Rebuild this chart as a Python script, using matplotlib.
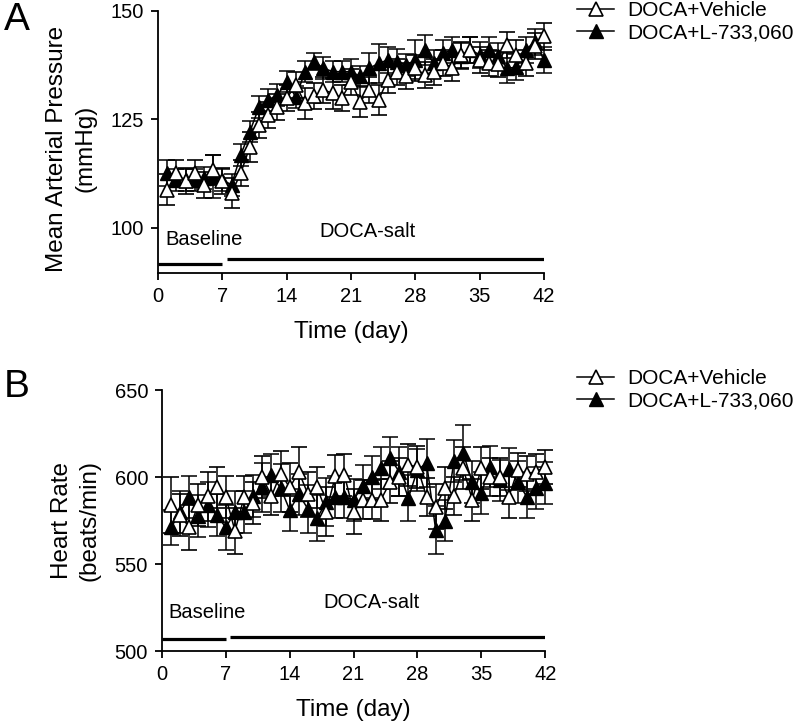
import matplotlib
matplotlib.use("Agg")
import matplotlib.pyplot as plt
from matplotlib.lines import Line2D

plt.rcParams['font.family'] = ['Liberation Sans', 'DejaVu Sans']

days = list(range(1, 43))

map_vehicle = [108.8, 112.6, 110.7, 112.6, 109.9, 113.4, 110.7, 108.0, 112.6, 118.7,
               123.7, 126.0, 127.9, 129.9, 132.9, 128.7, 130.3, 131.8, 131.0, 129.9,
               133.7, 129.1, 131.8, 129.5, 134.1, 136.0, 134.9, 136.8, 135.3, 136.0,
               137.9, 136.8, 139.9, 141.0, 138.7, 137.9, 137.8, 142.2, 139.9, 137.9,
               141.8, 144.1]
map_vehicle_err = [3.5, 3.0, 3.0, 3.0, 3.0, 3.5, 3.0, 3.5, 3.0, 3.5,
                   3.0, 3.0, 3.0, 3.0, 3.0, 3.5, 3.0, 3.0, 3.5, 3.0,
                   3.0, 3.5, 3.0, 3.5, 3.0, 3.0, 3.0, 3.0, 3.0, 3.0,
                   3.0, 3.0, 3.0, 3.0, 3.0, 3.0, 3.0, 3.0, 3.5, 3.0,
                   3.0, 3.0]
map_l733 = [112.6, 111.1, 111.1, 111.1, 111.5, 111.8, 111.1, 109.9, 116.8, 122.2,
            127.9, 129.5, 130.6, 133.7, 130.1, 136.0, 138.3, 136.8, 136.0, 136.0,
            136.0, 134.9, 136.8, 137.9, 138.7, 138.3, 137.5, 138.7, 141.0, 137.9,
            140.2, 141.0, 139.5, 141.0, 139.9, 141.0, 139.5, 136.8, 137.0, 141.0,
            142.9, 138.7]
map_l733_err = [3.0, 2.5, 2.5, 2.5, 2.5, 5.0, 2.5, 2.5, 2.5, 2.5,
                2.5, 2.5, 2.5, 2.5, 2.5, 2.5, 2.0, 2.5, 2.5, 2.5,
                3.0, 2.5, 3.5, 4.5, 3.0, 3.0, 2.5, 4.5, 3.5, 3.0,
                3.0, 3.0, 3.0, 3.0, 3.0, 3.0, 3.0, 3.5, 3.0, 3.0,
                3.0, 3.0]

hr_vehicle = [584, 578, 571, 584, 589, 594, 588.5, 569, 588.5, 585,
              600, 589, 602, 594, 603, 590, 594, 580, 600.6, 601,
              580, 587, 587, 587, 597, 600, 607, 605.7, 588.5, 583,
              593.7, 589, 605, 587, 605, 600, 600, 588.5, 604, 602,
              603, 605.7]
hr_vehicle_err = [16, 12, 13, 12, 14, 12, 12, 13, 12, 12,
                  12, 11, 13, 14, 14, 13, 12, 14, 12, 12,
                  13, 11, 11, 12, 12, 11, 12, 12, 11, 13,
                  12, 11, 12, 12, 12, 11, 11, 12, 10, 10,
                  10, 10]
hr_l733 = [571, 580, 588.5, 577.6, 584, 578, 571, 580, 580, 589,
           594, 601, 593.7, 581, 590, 581.6, 576.4, 585.6, 588.5, 588.5,
           587, 595, 600, 605, 611, 603, 588, 604, 608, 569.5,
           575, 609, 614, 597, 590.8, 606, 598, 604.6, 597, 588.5,
           593.7, 596.5]
hr_l733_err = [10, 12, 12, 12, 13, 12, 13, 12, 12, 12,
               14, 12, 14, 12, 12, 14, 13, 14, 12, 12,
               12, 12, 12, 12, 12, 14, 13, 12, 14, 14,
               12, 12, 16, 12, 12, 12, 12, 12, 12, 12,
               12, 12]

xticks = [0, 7, 14, 21, 28, 35, 42]
legend_labels = ['DOCA+Vehicle', 'DOCA+L-733,060']

fig = plt.figure(figsize=(8, 7.26), dpi=100)
axA = fig.add_axes([0.1975, 0.624, 0.4825, 0.361])
axB = fig.add_axes([0.2025, 0.1033, 0.479, 0.3595])

MS = 9.5
LW = 1.1


def draw(ax, y1, e1, y2, e2):
    ax.errorbar(days, y2, yerr=e2, fmt='-^', color='black', mfc='black', mec='black',
                ms=MS, lw=LW, elinewidth=LW, capsize=5.5, capthick=LW, clip_on=False, zorder=3)
    ax.errorbar(days, y1, yerr=e1, fmt='-^', color='black', mfc='white', mec='black',
                ms=MS, mew=1.2, lw=LW, elinewidth=LW, capsize=5.5, capthick=LW, clip_on=False, zorder=4)


def style(ax, xpad):
    for s in ['top', 'right']:
        ax.spines[s].set_visible(False)
    for s in ['left', 'bottom']:
        ax.spines[s].set_linewidth(1.3)
    ax.tick_params(width=1.3, length=5, labelsize=14.5, direction='out', pad=5)
    ax.set_xlim(0, 42)
    ax.set_xticks(xticks)
    ax.set_xlabel('Time (day)', fontsize=17.5, labelpad=xpad)


# Panel A
draw(axA, map_vehicle, map_vehicle_err, map_l733, map_l733_err)
style(axA, 11)
axA.set_ylim(89.6, 150)
axA.set_yticks([100, 125, 150])
axA.set_ylabel('Mean Arterial Pressure\n(mmHg)', fontsize=17.5, linespacing=1.35)
axA.yaxis.set_label_coords(-0.16, 0.475)
axA.plot([0, 7], [91.7, 91.7], color='black', lw=2.3, solid_capstyle='butt')
axA.plot([7.5, 42], [92.9, 92.9], color='black', lw=2.3, solid_capstyle='butt')
axA.text(0.75, 97.2, 'Baseline', fontsize=14.5, va='center', ha='left')
axA.text(17.6, 99.1, 'DOCA-salt', fontsize=14.5, va='center', ha='left')

# Panel B
draw(axB, hr_vehicle, hr_vehicle_err, hr_l733, hr_l733_err)
style(axB, 11)
axB.set_ylim(500, 650)
axB.set_yticks([500, 550, 600, 650])
axB.set_ylabel('Heart Rate\n(beats/min)', fontsize=17.5, labelpad=10, linespacing=1.35)
axB.plot([0, 7], [506.9, 506.9], color='black', lw=2.3, solid_capstyle='butt')
axB.plot([7.5, 42], [508, 508], color='black', lw=2.3, solid_capstyle='butt')
axB.text(0.65, 522.4, 'Baseline', fontsize=14.5, va='center', ha='left')
axB.text(17.65, 528, 'DOCA-salt', fontsize=14.5, va='center', ha='left')

handles = [Line2D([], [], color='black', lw=LW, marker='^', ms=MS, mfc='white', mec='black', mew=1.2),
           Line2D([], [], color='black', lw=LW, marker='^', ms=MS, mfc='black', mec='black')]
for y_anchor in [1 - 22 / 726, 1 - 390 / 726]:
    fig.legend(handles, legend_labels, loc='center left', bbox_to_anchor=(0.721, y_anchor),
               frameon=False, fontsize=15, handlelength=1.8, handletextpad=0.6,
               labelspacing=0.15, borderaxespad=0, borderpad=0)

fig.text(0.005, 0.972, 'A', fontsize=28, va='center', ha='left')
fig.text(0.005, 0.467, 'B', fontsize=28, va='center', ha='left')

fig.savefig('out.png', dpi=100)
